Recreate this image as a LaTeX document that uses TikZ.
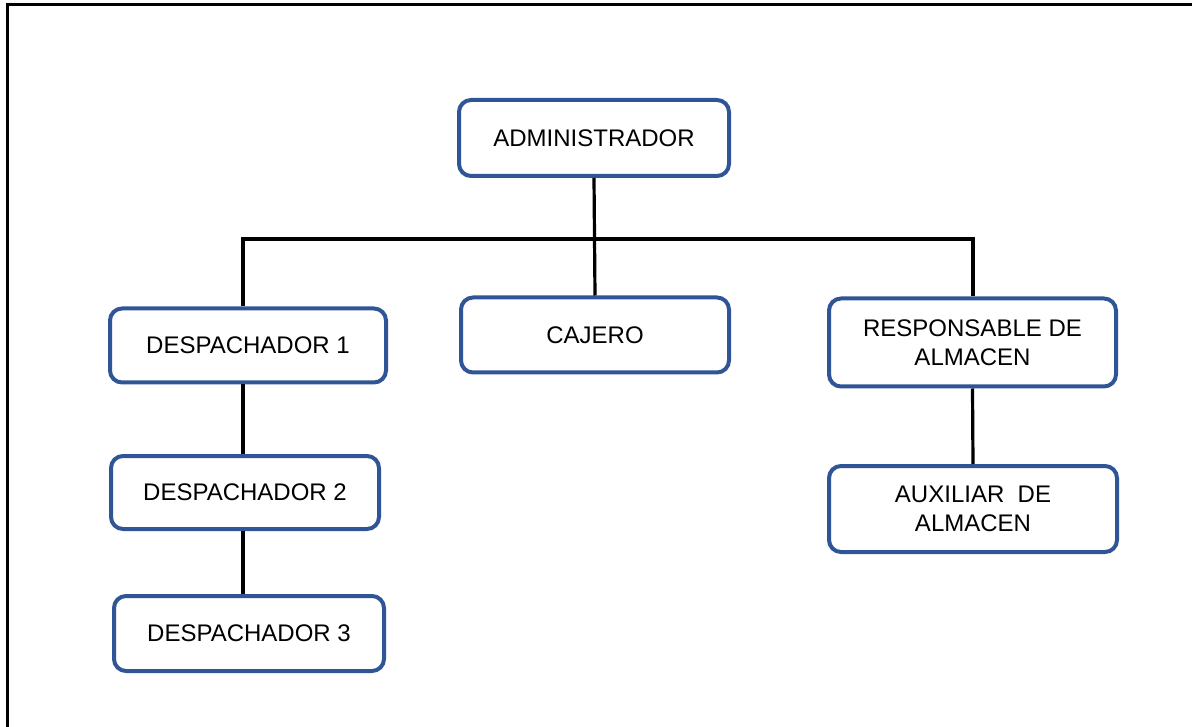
\documentclass[tikz,border=0pt]{standalone}
\usepackage{fontspec}
\setmainfont{Liberation Sans}
\definecolor{boxblue}{RGB}{47,85,151}
\begin{document}
\begin{tikzpicture}[x=1pt,y=-1pt,
  orgbox/.style={draw=boxblue, line width=4pt, rounded corners=12pt, fill=white,
    align=center, inner sep=0pt, font=\fontsize{24}{29}\selectfont},
  conn/.style={line width=3.2pt, black},
  frameline/.style={line width=3pt, black}]
\useasboundingbox (0,0) rectangle (1192,727);
\draw[frameline] (7.5,727) -- (7.5,4.5) -- (1192,4.5);
\node[orgbox, minimum width=270pt, minimum height=76pt] (adm) at (594,138) {ADMINISTRADOR};
\node[orgbox, minimum width=276pt, minimum height=74pt] (d1) at (248,345.5) {DESPACHADOR 1};
\node[orgbox, minimum width=268pt, minimum height=75pt] (caj) at (595,335) {CAJERO};
\node[orgbox, minimum width=287pt, minimum height=88pt] (resp) at (972.5,342.5) {RESPONSABLE DE\\ALMACEN};
\node[orgbox, minimum width=268pt, minimum height=73pt] (d2) at (245,492.5) {DESPACHADOR 2};
\node[orgbox, minimum width=270pt, minimum height=75pt] (d3) at (249,633.5) {DESPACHADOR 3};
\node[orgbox, minimum width=288pt, minimum height=86pt] (aux) at (973,509) {AUXILIAR\ \ DE\\ALMACEN};
\coordinate (bl) at (243,239);
\coordinate (br) at (973,239);
\draw[conn] (adm.south) -- (caj.north);
\draw[conn] (bl |- d1.north) -- (bl) -- (br) -- (br |- resp.north);
\draw[conn] (bl |- d1.south) -- (bl |- d2.north);
\draw[conn] (bl |- d2.south) -- (bl |- d3.north);
\draw[conn] (resp.south) -- (aux.north);
\end{tikzpicture}
\end{document}
